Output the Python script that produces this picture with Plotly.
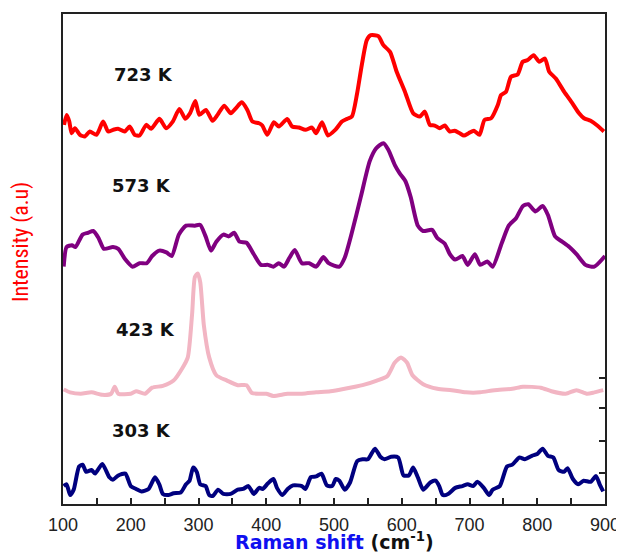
import plotly.graph_objects as go

# ---------------- data (Raman shift in cm-1, intensity in arbitrary units incl. vertical offset) -------------
wn_723 = [101.5, 105.4, 109.3, 112.7, 117.6, 125, 132.3, 139.6, 149.4, 159.2, 166.6, 173.9, 181.3, 191, 198.4,
          205.7, 213.1, 222.9, 230.2, 242.4, 252.2, 262, 271.8, 280.6, 287.5, 295.3, 301.2, 311, 320.8, 328.1,
          337.9, 347.7, 355, 363.8, 372.1, 379.5, 389.3, 394.2, 401.5, 411.3, 418.6, 430.9, 438.2, 448, 457.8,
          467.6, 473.5, 482.3, 491.1, 501.9, 511.7, 519, 526.4, 533.7, 541, 548.4, 554.3, 565.5, 572.9, 582.7,
          592.5, 604.7, 616.9, 626.7, 634.1, 641.4, 648.7, 656.1, 663.4, 670.8, 678.1, 685.5, 691.8, 698.7,
          706.5, 714.8, 722.2, 731.9, 741.8, 746.6, 753.9, 761.3, 771.1, 778.5, 785.8, 794.6, 802.9, 811.3,
          817.6, 827.4, 839.6, 851.9, 861.7, 869, 878.8, 888.6, 898.4]
int_723 = [380.7, 390.7, 384, 372.3, 377.3, 370.7, 369, 374, 370.7, 384, 374, 375.7, 376.7, 374, 379,
           370.7, 370, 380.7, 376.7, 386.7, 377.3, 384, 396.7, 386.7, 392.3, 404.7, 390.7, 395.7, 384.7, 390.7,
           400, 392.3, 397.3, 403.3, 395.7, 384, 382.3, 380, 370.7, 383.3, 379, 386.7, 379, 378, 375.7,
           378, 372.3, 383.3, 370, 375.7, 384, 386.7, 389, 410.7, 440.7, 465.7, 470.7, 469.7, 460.7, 454,
           434, 414, 392.3, 389, 394, 380.7, 380, 377.3, 380, 374, 374.7, 372.3, 370, 372.3,
           374.7, 370.7, 385.7, 387.3, 400.7, 410.7, 414, 429, 431.3, 444, 445.7, 450.7, 444, 447.3,
           434, 427.3, 414, 402.3, 392.3, 387.3, 384.7, 380, 374]

wn_573 = [101, 105.3, 113.2, 118.4, 128.9, 136.8, 144.7, 152.6, 160.5, 173.7, 181.6, 192.1, 202.6, 213.2,
          223.7, 231.6, 242.1, 252.6, 260.5, 271, 281.6, 294.7, 302.6, 310.5, 318.4, 326.3, 336.8, 344.7,
          352.6, 360.5, 371, 381.6, 392.1, 402.6, 410.5, 418.4, 426.3, 434.2, 442.1, 452.6, 463.2, 473.7,
          484.2, 492.1, 507.9, 515.8, 526.3, 539.5, 552.6, 562, 572.9, 580, 590, 597, 605.3, 613.2, 623.7,
          631.6, 644.7, 652.6, 663.2, 671.1, 679, 689.5, 697.4, 707.9, 715.8, 726.3, 734.2, 747.4, 757.9,
          768.4, 779, 786.8, 797.4, 807.9, 815.8, 826.3, 836.8, 847.4, 857.9, 871.1, 884.2, 900]
int_573 = [238.3, 258, 259.8, 258, 270.5, 272.3, 274.1, 266.9, 256.2, 258, 256.2, 245.4, 238.3, 241.8,
           241.8, 249, 254.4, 252.6, 249, 270.5, 279.5, 279.5, 280.2, 268.7, 254.4, 263.4, 270.5, 268.7,
           272.3, 263.4, 262.3, 250.8, 240.1, 240.1, 238.3, 241.8, 238.3, 247.2, 255.1, 241.8, 241.8, 238.3,
           247.9, 241.8, 238.3, 247.2, 272.3, 308.2, 344, 357, 362.3, 356, 340, 332, 324.3, 308.2, 279.5,
           274.1, 275.2, 266.9, 261.6, 250.8, 245.4, 249, 240.1, 250.8, 240.1, 243.6, 238.3, 261.6, 279.5,
           286.7, 299.2, 301, 293.8, 299.2, 290.2, 268.7, 263.4, 258, 250.8, 240.1, 238.3, 249]

wn_423 = [101, 110.5, 126.3, 142.1, 157.9, 171, 176.3, 181.6, 200, 207.9, 221, 231.6, 247.4, 263.2, 276.3,
          284.2, 290.5, 294.7, 298.9, 302.6, 307.9, 315.8, 326.3, 342.1, 357.9, 371, 378.9, 400, 410.5,
          431.6, 452.6, 473.7, 494.7, 515.8, 542.1, 563.2, 578.9, 589.5, 598.9, 607.9, 615.8, 631.6, 652.6,
          673.7, 694.7, 715.8, 736.8, 763.2, 778.9, 805.2, 821, 842.1, 857.9, 873.7, 884.2, 897.4]
int_423 = [115, 112.1, 110.7, 112.1, 109.6, 110.7, 117.8, 110.7, 110.7, 113.2, 110.7, 116.8, 118.6, 123.9, 136.5,
           147.2, 190.2, 227.9, 231.5, 222.5, 179.5, 147.2, 129.3, 123.9, 119.3, 119.3, 111.4, 110.7, 108.5,
           110.7, 110.7, 112.1, 113.2, 115.7, 119.3, 123.9, 128.6, 141.8, 147.2, 141.8, 129.3, 120.3, 115.7,
           114.3, 112.1, 112.1, 114.3, 115.7, 117.8, 116.8, 113.2, 110.7, 114.3, 110.7, 112.1, 114.3]

wn_303 = [101, 105.3, 110.5, 115.8, 123.7, 128.9, 134.2, 142.1, 147.4, 157.9, 168.4, 173.7, 181.6, 192.1, 200,
          207.9, 215.8, 226.3, 235.8, 242.1, 247.4, 255.3, 263.2, 273.7, 281.6, 286.8, 292.1, 297.4, 302.6,
          310.5, 315.8, 321, 328.9, 336.8, 347.4, 357.9, 365.8, 373.7, 381.6, 389.5, 394.7, 402.6, 410.5,
          415.8, 423.7, 431.6, 439.5, 452.6, 457.9, 465.8, 473.7, 481.6, 489.5, 497.4, 502.6, 507.9, 515.8,
          523.7, 534.2, 542.1, 550, 560.5, 568.4, 574.7, 584.2, 594.7, 602.6, 610.5, 616.8, 623.7, 631.6,
          642.1, 650, 655.3, 660.5, 668.4, 679, 689.5, 697.4, 705.3, 711.6, 721, 728.9, 734.2, 744.7, 755.3,
          763.2, 773.7, 781.6, 792.1, 800, 807.9, 815.8, 823.7, 831.6, 839.5, 844.7, 852.6, 860.5, 868.4,
          878.9, 886.8, 892.1, 897.4]
int_303 = [18, 19.8, 9, 14.4, 37.7, 39.5, 32.3, 34.1, 30.5, 40.2, 26.9, 24.4, 28.7, 30.5, 18,
           15.1, 12.6, 15.1, 26.9, 19.8, 10.1, 9, 10.8, 11.5, 19.8, 23.4, 36.6, 32.3, 19.8,
           18, 9, 8, 14.4, 10.1, 10.1, 14.4, 15.1, 18, 10.1, 16.2, 15.1, 20.8, 25.1,
           16.2, 9, 15.1, 18.7, 18, 15.1, 26.9, 27.7, 30.5, 18.7, 18, 25.1, 23.4, 14.4,
           21.6, 43.1, 44.9, 44.9, 55.6, 47.4, 44.9, 47.4, 46.7, 28.7, 28.7, 36.6, 26.9, 14.4,
           21.6, 23.4, 18, 9, 10.1, 16.2, 18, 19.8, 18, 22.3, 16.2, 9, 14.4, 18, 37.7,
           39.5, 46.7, 44.9, 48.4, 50.2, 55.6, 48.4, 46.7, 34.1, 32.3, 35.9, 25.1, 19.8, 23.4,
           22.3, 28, 19.8, 12.6]

series_names = ["723 K", "573 K", "423 K", "303 K"]
series_colors = ["#FF0000", "#800080", "#F2B5C3", "#00007F"]
label_x = [173, 169, 176, 169]
label_y = [431, 320, 175, 74]
right_tick_vals = [31, 63, 96, 127]
x_tick_vals = [100, 200, 300, 400, 500, 600, 700, 800, 900]

all_wn = [wn_723, wn_573, wn_423, wn_303]
all_int = [int_723, int_573, int_423, int_303]

fig = go.Figure()
for name, xs, ys, col in zip(series_names, all_wn, all_int, series_colors):
    fig.add_trace(go.Scatter(x=xs, y=ys, mode="lines", name=name,
                             line=dict(color=col, width=4, shape="spline", smoothing=0.6)))

# invisible trace on the secondary axis so its ticks render
fig.add_trace(go.Scatter(x=[100], y=[0], yaxis="y2", mode="markers",
                         marker=dict(opacity=0), showlegend=False, hoverinfo="skip"))

for name, lx, ly in zip(series_names, label_x, label_y):
    fig.add_annotation(x=lx, y=ly, xref="x", yref="y", text="<b>%s</b>" % name, showarrow=False,
                       xanchor="left", yanchor="middle",
                       font=dict(family="DejaVu Sans", size=18, color="#111111"))

fig.add_annotation(x=-0.077, y=0.535, xref="paper", yref="paper", text="Intensity (a.u)",
                   textangle=-90, showarrow=False, xanchor="center", yanchor="middle",
                   font=dict(family="Liberation Sans Narrow, Roboto Condensed, Liberation Sans", size=22, color="#FF0000"))

fig.add_annotation(x=0.5, y=-0.1, xref="paper", yref="paper", yshift=-1,
                   text="<b><span style='color:#1010F0'>Raman shift</span> (cm<sup>-1</sup>)</b>",
                   showarrow=False, xanchor="center", yanchor="bottom", borderpad=0,
                   font=dict(family="DejaVu Sans", size=19, color="#111111"))

# page body has an 8 px margin: the figure is sized/placed so the plot area lands where the reference has it
fig.update_layout(
    width=616, height=545,
    margin=dict(l=55, r=16, t=4, b=49),
    paper_bgcolor="white", plot_bgcolor="white",
    showlegend=False,
    xaxis=dict(range=[100, 900], tickvals=x_tick_vals, ticks="inside", ticklen=6, tickwidth=1.5,
               tickcolor="#222222", showline=True, linecolor="#222222", linewidth=2, mirror=True,
               showgrid=False, zeroline=False, ticklabelstandoff=3,
               tickfont=dict(family="Liberation Sans", size=18, color="#222222"),
               minor=dict(dtick=50, tick0=100, ticks="inside", ticklen=6, tickwidth=1.5, tickcolor="#222222")),
    yaxis=dict(range=[0, 492], showticklabels=False, ticks="", showline=True, linecolor="#222222",
               linewidth=2, mirror=True, showgrid=False, zeroline=False),
    yaxis2=dict(range=[0, 492], overlaying="y", side="right", tickvals=right_tick_vals, ticks="inside",
                ticklen=6, tickwidth=1.5, tickcolor="#222222", showticklabels=False, showline=False,
                showgrid=False, zeroline=False),
)

fig.write_html("out.html")
